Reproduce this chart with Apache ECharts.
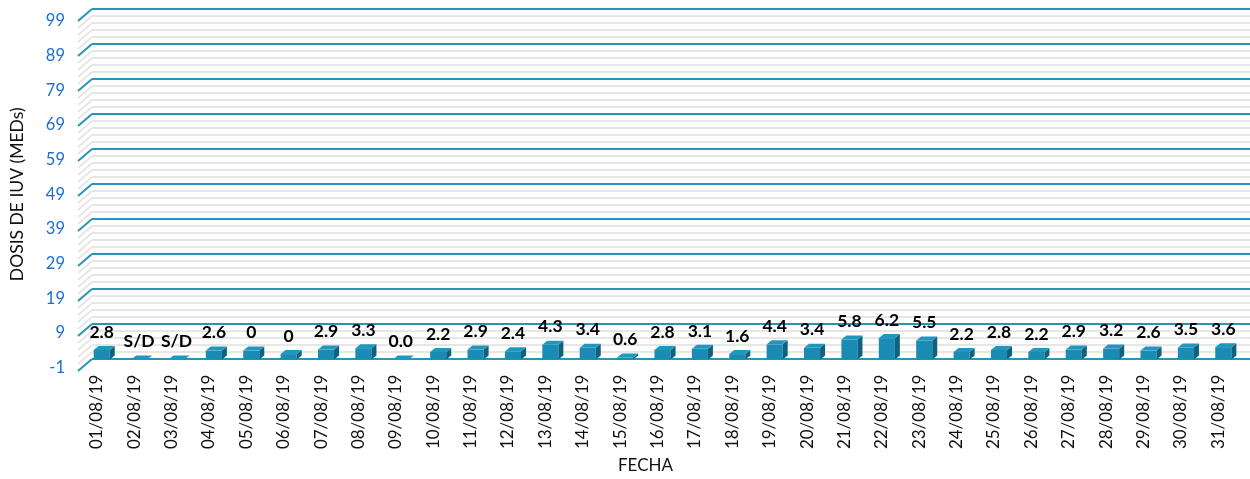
<!DOCTYPE html>
<html>
<head>
<meta charset="utf-8">
<script src="https://cdn.jsdelivr.net/npm/echarts@6/dist/echarts.min.js"></script>
<style>html,body{margin:0;padding:0;background:#fff}#c{width:1250px;height:479px}</style>
</head>
<body>
<div id="c"></div>
<script>
const categories = ['01/08/19','02/08/19','03/08/19','04/08/19','05/08/19','06/08/19','07/08/19','08/08/19','09/08/19','10/08/19','11/08/19','12/08/19','13/08/19','14/08/19','15/08/19','16/08/19','17/08/19','18/08/19','19/08/19','20/08/19','21/08/19','22/08/19','23/08/19','24/08/19','25/08/19','26/08/19','27/08/19','28/08/19','29/08/19','30/08/19','31/08/19'];
const doseValues = [2.8, null, null, 2.6, 2.6, 1.6, 2.9, 3.3, 0.0, 2.2, 2.9, 2.4, 4.3, 3.4, 0.6, 2.8, 3.1, 1.6, 4.4, 3.4, 5.8, 6.2, 5.5, 2.2, 2.8, 2.2, 2.9, 3.2, 2.6, 3.5, 3.6];
const doseLabels = ['2.8','S/D','S/D','2.6','0','0','2.9','3.3','0.0','2.2','2.9','2.4','4.3','3.4','0.6','2.8','3.1','1.6','4.4','3.4','5.8','6.2','5.5','2.2','2.8','2.2','2.9','3.2','2.6','3.5','3.6'];
const yTicks = [-1, 9, 19, 29, 39, 49, 59, 69, 79, 89, 99];

const FONT = 'Lato';
const TEAL = '#2a93b8';
const MINOR = '#e6e6e6';
const DEPTH_X = 14, DEPTH_Y = 12;

// grid lines values (major + minor) for the left 3D connectors
const gridVals = [];
for (let k = 0; k < yTicks.length; k++) {
  gridVals.push([0, yTicks[k], 1]);
  if (k < yTicks.length - 1) {
    const step = (yTicks[k + 1] - yTicks[k]) / 5;
    for (let m = 1; m < 5; m++) gridVals.push([0, yTicks[k] + m * step, 0]);
  }
}

const chart = echarts.init(document.getElementById('c'), null, {renderer: 'canvas'});
chart.setOption({
  animation: false,
  grid: [
    {left: 78, right: 13, top: 21, bottom: 108},
    {left: 92, right: 0, top: 9, bottom: 120}
  ],
  xAxis: [
    {
      type: 'category', gridIndex: 0, data: categories,
      axisLine: {show: false}, axisTick: {show: false},
      axisLabel: {rotate: 90, margin: 7, color: '#111', fontFamily: FONT, fontSize: 17, interval: 0},
      name: 'FECHA', nameLocation: 'middle', nameGap: 88,
      nameTextStyle: {color: '#111', fontFamily: FONT, fontSize: 17, padding: [0, 24, 0, 0]}
    },
    {type: 'value', gridIndex: 1, min: 0, max: 1, show: false}
  ],
  yAxis: [
    {
      type: 'value', gridIndex: 0, min: -1, max: 99, interval: 10,
      axisLine: {show: false}, axisTick: {show: false}, splitLine: {show: false},
      axisLabel: {color: '#1f6fd0', fontFamily: FONT, fontSize: 16.5, margin: 13},
      name: 'DOSIS DE IUV (MEDs)', nameLocation: 'middle', nameRotate: 90, nameGap: 52,
      nameTextStyle: {color: '#111', fontFamily: FONT, fontSize: 17.5}
    },
    {
      type: 'value', gridIndex: 1, min: -1, max: 99, interval: 10,
      axisLine: {show: false}, axisTick: {show: false}, axisLabel: {show: false},
      splitLine: {show: true, lineStyle: {color: TEAL, width: 2}},
      minorTick: {show: false, splitNumber: 5},
      minorSplitLine: {show: true, lineStyle: {color: MINOR, width: 2}}
    }
  ],
  series: [
    {
      type: 'custom', xAxisIndex: 1, yAxisIndex: 1, clip: false, z: 1,
      data: gridVals,
      renderItem: function (params, api) {
        const p = api.coord([0, api.value(1)]);
        const major = api.value(2) === 1;
        return {
          type: 'line',
          shape: {x1: p[0] - DEPTH_X, y1: p[1] + DEPTH_Y, x2: p[0], y2: p[1]},
          style: {stroke: major ? TEAL : MINOR, lineWidth: 2}
        };
      }
    },
    {
      type: 'custom', xAxisIndex: 0, yAxisIndex: 0, clip: false, z: 5,
      data: doseValues.map((v, i) => [i, v === null ? 0 : v]),
      renderItem: function (params, api) {
        const i = api.value(0);
        let v = api.value(1);
        if (isNaN(v)) v = 0;
        const offX = 5, offY = -4.5, dx = 5, dy = 4;
        const base = api.coord([i, 0]);
        const top = api.coord([i, v]);
        const w = api.size([1, 0])[0] * 0.43;
        const cx = base[0] + offX;
        const x0 = cx - w / 2, x1 = cx + w / 2;
        const yb = base[1] + offY, yt = top[1] + offY;
        const children = [];
        if (yb - yt > 0.3) {
          children.push({type: 'rect', shape: {x: x0, y: yt, width: w, height: yb - yt}, style: {fill: '#1a8bb3'}});
          children.push({type: 'polygon', shape: {points: [[x1, yt], [x1 + dx, yt - dy], [x1 + dx, yb - dy], [x1, yb]]}, style: {fill: '#0f627d'}});
        }
        children.push({type: 'polygon', shape: {points: [[x0, yt], [x1, yt], [x1 + dx, yt - dy], [x0 + dx, yt - dy]]}, style: {fill: '#2196be'}});
        children.push({
          type: 'text',
          style: {
            text: doseLabels[i], x: cx, y: yt - dy - 14,
            align: 'center', verticalAlign: 'middle',
            fill: '#000', font: 'bold 17.5px ' + FONT
          }
        });
        return {type: 'group', children: children};
      }
    }
  ]
});
</script>
</body>
</html>
